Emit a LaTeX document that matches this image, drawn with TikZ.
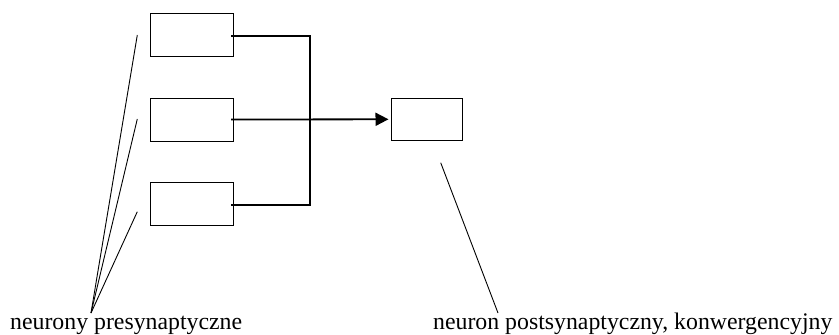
\documentclass[tikz,border=0pt]{standalone}
\usepackage{fontspec}
\setmainfont{Liberation Serif}
\usetikzlibrary{arrows.meta}
\begin{document}
\begin{tikzpicture}[x=1pt,y=-1pt,
  cell/.style={draw, line width=1pt, minimum width=83pt, minimum height=43pt, inner sep=0pt},
  wire/.style={line width=1.8pt},
  pointer/.style={line width=0.9pt},
  caption/.style={font=\fontsize{23.8}{26}\selectfont, inner sep=0pt, anchor=base west}]
  \useasboundingbox (0,0) rectangle (839,335);
  % presynaptic neurons
  \node[cell] (n1) at (192,35) {};
  \node[cell] (n2) at (192,119.5) {};
  \node[cell] (n3) at (192,204) {};
  % postsynaptic neuron
  \node[cell, minimum width=71pt, minimum height=42pt] (post) at (426.5,119.3) {};
  % convergence wiring
  \coordinate (j1) at (310,36);
  \coordinate (j3) at (310,204.7);
  \draw[wire] ([xshift=-3pt]n1.east |- 0,36) -- (j1) -- (j3) -- ([xshift=-3pt]n3.east |- 0,204.7);
  \draw[wire, shorten >=2pt, -{Triangle[length=13pt,width=13pt]}] ([xshift=-3pt]n2.east) -- (post.west);
  % captions
  \node[caption] (lpre) at (10,329) {neurony presynaptyczne};
  \node[caption] (lpost) at (433,329) {neuron postsynaptyczny, konwergencyjny};
  \coordinate (cp) at (91,313);
  \coordinate (t1) at (137.3,35);
  \coordinate (t2) at (137.3,119);
  \coordinate (t3) at (137.3,211.7);
  \draw[pointer] (cp) -- (t1);
  \draw[pointer] (cp) -- (t2);
  \draw[pointer] (cp) -- (t3);
  \coordinate (cq) at (498,313);
  \coordinate (tq) at (440.7,162.7);
  \draw[pointer] (cq) -- (tq);
\end{tikzpicture}
\end{document}
